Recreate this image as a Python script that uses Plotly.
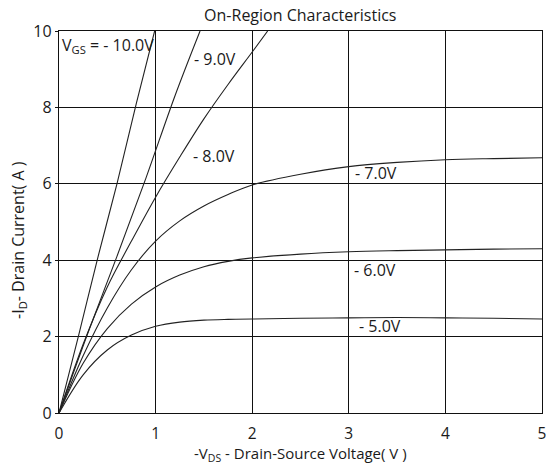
import plotly.graph_objects as go

# ---- data ----
x_sat = [0, 0.25, 0.5, 0.75, 1.0, 1.25, 1.5, 1.75, 2.0, 2.5, 3.0, 3.5, 4.0, 4.5, 5.0]
id_5v = [0, 1.0, 1.65, 2.04, 2.27, 2.38, 2.43, 2.45, 2.46, 2.48, 2.49, 2.5, 2.49, 2.48, 2.46]
id_6v = [0, 1.3, 2.21, 2.85, 3.3, 3.61, 3.83, 3.97, 4.06, 4.16, 4.22, 4.25, 4.27, 4.29, 4.30]
id_7v = [0, 1.5, 2.75, 3.75, 4.5, 5.03, 5.42, 5.72, 5.97, 6.25, 6.45, 6.56, 6.63, 6.66, 6.68]

x_8v = [0, 0.25, 0.5, 0.75, 1.0, 1.25, 1.5, 1.75, 2.0, 2.16]
id_8v = [0, 1.8, 3.3, 4.5, 5.65, 6.7, 7.7, 8.6, 9.45, 10.0]

x_9v = [0, 0.3, 0.6, 0.9, 1.2, 1.46]
id_9v = [0, 2.1, 4.1, 6.15, 8.3, 10.0]

x_10v = [0, 0.2, 0.4, 0.6, 0.8, 0.99]
id_10v = [0, 2.0, 4.05, 6.0, 8.1, 10.0]

curve_labels = ["V<sub>GS</sub> = - 10.0V", "- 9.0V", "- 8.0V", "- 7.0V", "- 6.0V", "- 5.0V"]
label_x = [0.01, 1.38, 1.37, 3.04, 3.03, 3.09]
label_y = [9.62, 9.27, 6.72, 6.29, 3.75, 2.27]

x_ticks = [0, 1, 2, 3, 4, 5]
y_ticks = [0, 2, 4, 6, 8, 10]

FONT = "Open Sans"
TXT = "#1a1a1a"

fig = go.Figure()
for xs, ys in [(x_10v, id_10v), (x_9v, id_9v), (x_8v, id_8v),
               (x_sat, id_7v), (x_sat, id_6v), (x_sat, id_5v)]:
    fig.add_trace(go.Scatter(x=xs, y=ys, mode="lines",
                             line=dict(color="#222222", width=1.1, shape="spline", smoothing=1.0),
                             hoverinfo="skip", showlegend=False))

for t, lx, ly in zip(curve_labels, label_x, label_y):
    fig.add_annotation(x=lx, y=ly, xref="x", yref="y", text=t, showarrow=False,
                       xanchor="left", yanchor="middle",
                       font=dict(family=FONT, size=16, color=TXT))

# axis titles
fig.add_annotation(x=0.5, y=0.0, xref="paper", yref="paper",
                   text="-V<sub>DS</sub> - Drain-Source Voltage( V )", showarrow=False,
                   xanchor="center", yanchor="middle", yshift=-41,
                   font=dict(family=FONT, size=15, color=TXT))
fig.add_annotation(x=0, y=0.453, xref="paper", yref="paper",
                   text="-I<sub>D</sub>- Drain Current( A )", showarrow=False, textangle=-90,
                   xanchor="center", yanchor="middle", xshift=-40,
                   font=dict(family=FONT, size=16, color=TXT))

fig.update_layout(
    width=546, height=467,
    margin=dict(l=59, r=4, t=31, b=54, autoexpand=False),
    paper_bgcolor="white", plot_bgcolor="white",
    title=dict(text="On-Region Characteristics", x=0.55, xanchor="center",
               y=1 - 15 / 467, yanchor="middle", yref="container",
               font=dict(family=FONT, size=16, color=TXT)),
    xaxis=dict(range=[0, 5], tickvals=x_ticks, ticktext=[str(v) for v in x_ticks],
               showgrid=True, gridcolor="#111111", gridwidth=1.3,
               showline=True, linecolor="#111111", linewidth=1.3, mirror=True,
               ticks="outside", ticklen=6, tickcolor="white",
               ticklabeloverflow="allow", automargin=False,
               zeroline=False, tickfont=dict(family=FONT, size=15.5, color=TXT)),
    yaxis=dict(range=[0, 10], tickvals=y_ticks, ticktext=[str(v) for v in y_ticks],
               showgrid=True, gridcolor="#111111", gridwidth=1.3,
               showline=True, linecolor="#111111", linewidth=1.3, mirror=True,
               ticks="outside", ticklen=3, tickcolor="#111111",
               ticklabeloverflow="allow", automargin=False,
               zeroline=False, tickfont=dict(family=FONT, size=16, color=TXT)),
)

fig.write_html("out.html")
